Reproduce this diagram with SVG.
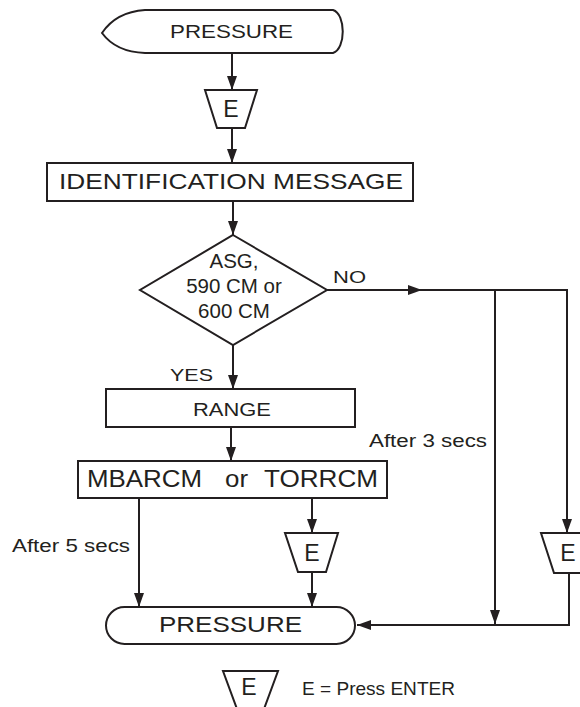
<svg xmlns="http://www.w3.org/2000/svg" width="580" height="707" viewBox="0 0 580 707">
<style>
.s{fill:#fff;stroke:#231f20;stroke-width:2;stroke-linejoin:miter}
.c{fill:none;stroke:#231f20;stroke-width:2}
.t{font-family:"Liberation Sans",Arial,sans-serif;fill:#231f20}
.m{text-anchor:middle}
</style>
<defs>
<marker id="ah" markerUnits="userSpaceOnUse" markerWidth="14" markerHeight="10" refX="14" refY="5" orient="auto">
<path d="M0,0 L14,5 L0,10 z" fill="#231f20"/>
</marker>
</defs>
<rect width="580" height="707" fill="#fff"/>
<g id="connectors">
<line class="c" x1="232" y1="53" x2="232" y2="90" marker-end="url(#ah)"/>
<line class="c" x1="232" y1="128" x2="232" y2="163" marker-end="url(#ah)"/>
<line class="c" x1="233" y1="201" x2="233" y2="235" marker-end="url(#ah)"/>
<line class="c" x1="233" y1="345" x2="233" y2="389" marker-end="url(#ah)"/>
<line class="c" x1="231" y1="427" x2="231" y2="461" marker-end="url(#ah)"/>
<line class="c" x1="312" y1="498" x2="312" y2="533" marker-end="url(#ah)"/>
<line class="c" x1="312" y1="572" x2="312" y2="607" marker-end="url(#ah)"/>
<line class="c" x1="139" y1="498" x2="139" y2="607" marker-end="url(#ah)"/>
<line class="c" x1="327" y1="290" x2="422" y2="290" marker-end="url(#ah)"/>
<line class="c" x1="420" y1="290" x2="568" y2="290"/>
<line class="c" x1="495" y1="290" x2="495" y2="624" marker-end="url(#ah)"/>
<line class="c" x1="567" y1="289" x2="567" y2="533" marker-end="url(#ah)"/>
<polyline class="c" points="569,573 569,625 357,625" marker-end="url(#ah)"/>
<text class="t" x="333" y="283" font-size="17" textLength="33" lengthAdjust="spacingAndGlyphs">NO</text>
<text class="t" x="170" y="381" font-size="17" textLength="43" lengthAdjust="spacingAndGlyphs">YES</text>
<text class="t" x="369" y="447" font-size="18" textLength="118" lengthAdjust="spacingAndGlyphs">After 3 secs</text>
<text class="t" x="12" y="552" font-size="18" textLength="118" lengthAdjust="spacingAndGlyphs">After 5 secs</text>
</g>
<g id="pressure-top">
<path class="s" d="M102,33 Q116,12 145,10 L333,10 C346,14 346,49 333,53 L145,53 Q116,52 102,33 Z"/>
<text class="t" x="170" y="38" font-size="18.5" textLength="123" lengthAdjust="spacingAndGlyphs">PRESSURE</text>
</g>
<g id="enter-1">
<polygon class="s" points="205,90 257,90 245,128 217,128"/>
<text class="t m" x="231" y="117" font-size="23">E</text>
</g>
<g id="identification">
<rect class="s" x="47" y="163" width="366" height="38"/>
<text class="t" x="59" y="189" font-size="22" textLength="344" lengthAdjust="spacingAndGlyphs">IDENTIFICATION MESSAGE</text>
</g>
<g id="decision">
<polygon class="s" points="233,235 327,290 233,345 140,290"/>
<text class="t m" x="234" y="268" font-size="20.5">ASG,</text>
<text class="t m" x="234" y="293" font-size="20.5">590 CM or</text>
<text class="t m" x="234" y="318" font-size="20.5">600 CM</text>
</g>
<g id="range">
<rect class="s" x="106" y="389" width="249" height="38"/>
<text class="t" x="193" y="416" font-size="17.7" textLength="78" lengthAdjust="spacingAndGlyphs">RANGE</text>
</g>
<g id="units">
<rect class="s" x="78" y="461" width="309" height="37"/>
<text class="t" x="87" y="487" font-size="23" textLength="115" lengthAdjust="spacingAndGlyphs">MBARCM</text>
<text class="t" x="225" y="487" font-size="23" textLength="23" lengthAdjust="spacingAndGlyphs">or</text>
<text class="t" x="264" y="487" font-size="23" textLength="114" lengthAdjust="spacingAndGlyphs">TORRCM</text>
</g>
<g id="enter-2">
<polygon class="s" points="285,533 338,533 326,572 298,572"/>
<text class="t m" x="312" y="561" font-size="23">E</text>
</g>
<g id="enter-3">
<polygon class="s" points="541,533 597,533 584,573 554,573"/>
<text class="t m" x="568" y="561" font-size="23">E</text>
</g>
<g id="pressure-bottom">
<rect class="s" x="106" y="607" width="249" height="37" rx="18.5" ry="18.5"/>
<text class="t" x="159" y="632" font-size="22" textLength="143" lengthAdjust="spacingAndGlyphs">PRESSURE</text>
</g>
<g id="legend">
<polyline class="c" points="237,709 223,671 278,671 264,709"/>
<text class="t m" x="249" y="695" font-size="23">E</text>
<text class="t" x="302" y="695" font-size="19" textLength="153" lengthAdjust="spacingAndGlyphs">E = Press ENTER</text>
</g>
</svg>
